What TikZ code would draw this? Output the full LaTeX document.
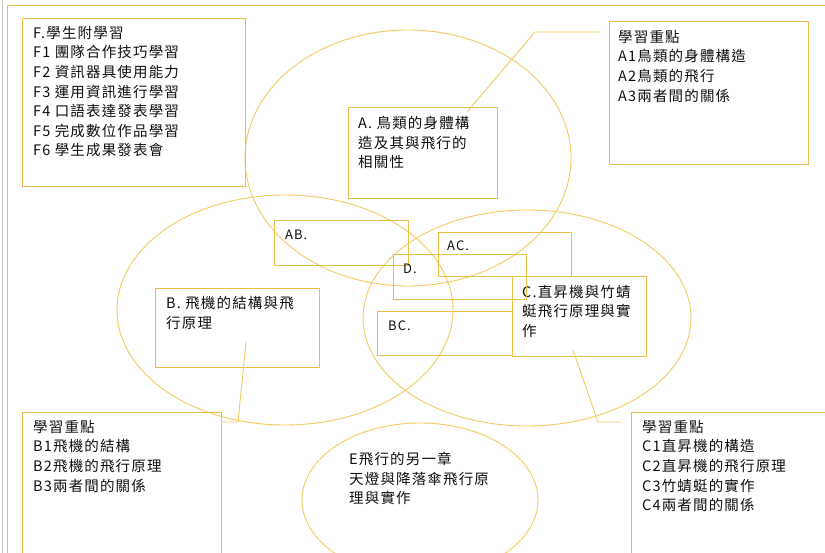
\documentclass[tikz,border=0pt]{standalone}
\usepackage{fontspec}
\newfontfamily\cjk{Noto Sans CJK TC}[LetterSpace=8]
\usepackage{tikz}
\usetikzlibrary{shapes.geometric}
\definecolor{ringgold}{RGB}{242, 202, 95}
\definecolor{boxgold}{RGB}{234, 190, 72}
\definecolor{edgegray}{RGB}{205, 200, 190}
\definecolor{inkgray}{RGB}{15, 15, 15}

\begin{document}
\begin{tikzpicture}[x=1pt, y=-1pt,
    ring/.style={ellipse, draw=ringgold, line width=0.9pt, inner sep=0pt, outer sep=0pt},
    box/.style={rectangle, draw=boxgold, line width=1.1pt, inner sep=0pt, anchor=north west},
    txt/.style={anchor=north west, inner sep=0pt, align=left, text=inkgray, font=\cjk\fontsize{14.5}{19.6}\selectfont},
    tag/.style={anchor=north west, inner sep=0pt, text=inkgray, font=\cjk\fontsize{13}{15}\selectfont},
    callout/.style={draw=ringgold, line width=0.9pt}]
    \useasboundingbox (0,0) rectangle (825,553);

    % Page frame
    \draw[edgegray, line width=0.8pt] (2.5,0) -- (2.5,553);
    \draw[boxgold, line width=1pt] (7,553) -- (7,6) -- (825,6);

    % Four circles
    \node[ring, minimum width=326, minimum height=256] (ringA) at (408,158) {};
    \node[ring, minimum width=336, minimum height=230] (ringB) at (285,310) {};
    \node[ring, minimum width=328, minimum height=216] (ringC) at (527,318) {};
    \node[ring, minimum width=236, minimum height=154] (ringE) at (420,500) {};

    % Side panels
    \node[box, minimum width=223, minimum height=168] (fbox) at (22,18) {};
    \node[txt] (ftext) at (33,26) {F.學生附學習\\F1 團隊合作技巧學習\\F2 資訊器具使用能力\\F3 運用資訊進行學習\\F4 口語表達發表學習\\F5 完成數位作品學習\\F6 學生成果發表會};

    \node[box, minimum width=199, minimum height=143] (akey) at (609,21) {};
    \node[txt] (akeytext) at (618,30) {學習重點\\A1鳥類的身體構造\\A2鳥類的飛行\\A3兩者間的關係};

    \node[box, minimum width=199, minimum height=150] (bkey) at (22,412) {};
    \node[txt] (bkeytext) at (33,420) {學習重點\\B1飛機的結構\\B2飛機的飛行原理\\B3兩者間的關係};

    \node[box, minimum width=210, minimum height=150] (ckey) at (631,412) {};
    \node[txt] (ckeytext) at (642,420) {學習重點\\C1直昇機的構造\\C2直昇機的飛行原理\\C3竹蜻蜓的實作\\C4兩者間的關係};

    % Topic boxes
    \node[box, minimum width=149, minimum height=91] (abox) at (348,107) {};
    \node[txt] (atext) at (358,116) {A. 鳥類的身體構\\造及其與飛行的\\相關性};

    \node[box, minimum width=164, minimum height=79] (bbox) at (155,288) {};
    \node[txt] (btext) at (166,296) {B. 飛機的結構與飛\\行原理};

    \node[box, minimum width=134, minimum height=80] (cbox) at (512,276) {};
    \node[txt] (ctext) at (522,285) {C.直昇機與竹蜻\\蜓飛行原理與實\\作};

    \node[txt] (etext) at (349,452) {E飛行的另一章\\天燈與降落傘飛行原\\理與實作};

    % Overlap boxes
    \node[box, minimum width=134, minimum height=45] (abbox) at (274,220) {};
    \node[tag] (abtag) at (285,229.5) {AB.};
    \node[box, minimum width=133, minimum height=44] (acbox) at (438,232) {};
    \node[tag] (actag) at (447,240.5) {AC.};
    \node[box, minimum width=133, minimum height=45] (dbox) at (393,254) {};
    \node[tag] (dtag) at (403,263.5) {D.};
    \node[box, minimum width=135, minimum height=44] (bcbox) at (377,311) {};
    \node[tag] (bctag) at (388,320.5) {BC.};

    % Callout lines
    \coordinate (atail) at (467,112);
    \coordinate (abend) at (535,32);
    \coordinate (ahead) at (600,32);
    \draw[callout] (atail) -- (abend) -- (ahead);
    \coordinate (btail) at (246,342);
    \coordinate (bbend) at (238,422);
    \coordinate (bhead) at (221,422);
    \draw[callout] (btail) -- (bbend) -- (bhead);
    \coordinate (ctail) at (573,350);
    \coordinate (cbend) at (598,422);
    \coordinate (chead) at (622,422);
    \draw[callout] (ctail) -- (cbend) -- (chead);
\end{tikzpicture}
\end{document}
